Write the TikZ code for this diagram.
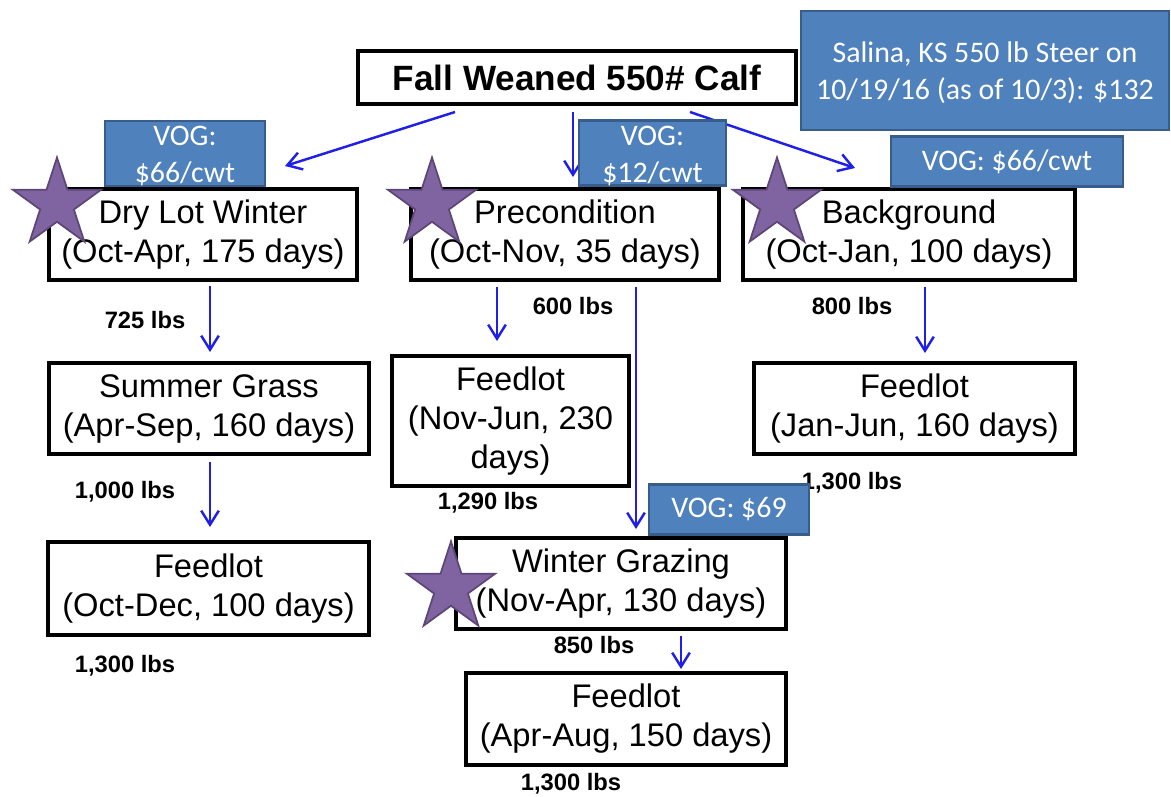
\documentclass[tikz,border=0pt]{standalone}
\usepackage{fontspec}
\setmainfont{Liberation Sans}
\newfontfamily\carl{Carlito}
\usetikzlibrary{shapes.geometric,arrows.meta}
\definecolor{vogfill}{HTML}{4F81BD}
\definecolor{vogline}{HTML}{385D8A}
\definecolor{starfill}{HTML}{8064A2}
\definecolor{starline}{HTML}{5C4776}
\definecolor{arrblue}{HTML}{1F1FE8}
\begin{document}
\begin{tikzpicture}[x=0.02cm,y=-0.02cm,
  stage/.style={draw=black,line width=2.4pt,fill=white,align=center,inner sep=0pt,font=\fontsize{18.6}{22.2}\selectfont},
  vog/.style={draw=vogline,line width=1.2pt,fill=vogfill,text=white,align=center,inner sep=0pt,font=\carl\fontsize{17}{21}\selectfont},
  wt/.style={font=\bfseries\fontsize{13.5}{16}\selectfont,inner sep=0pt},
  flow/.style={draw=arrblue,line width=1.4pt,-{Straight Barb[length=8pt,width=10pt]}},
  pstar/.style={star,star points=5,star point ratio=2.618,minimum size=1.86cm,inner sep=0pt,fill=starfill,draw=starline,line width=1pt}]
\useasboundingbox (0,0) rectangle (1171,796);
\fill[white] (0,0) rectangle (1171,796);

% weight labels
\node[wt] (w725) at (145,320) {725 lbs};
\node[wt] (w600) at (573,306) {600 lbs};
\node[wt] (w800) at (852,306) {800 lbs};
\node[wt] (w1000) at (125,492) {1,000 lbs};
\node[wt] (w1290) at (488,503) {1,290 lbs};
\node[wt] (w1300r) at (852,483) {1,300 lbs};
\node[wt] (w1300l) at (125,666) {1,300 lbs};
\node[wt] (w850) at (594,645) {850 lbs};
\node[wt] (w1300b) at (571,784) {1,300 lbs};

% stage boxes
\node[stage,font=\bfseries\fontsize{20}{24}\selectfont,minimum width=8.76cm,minimum height=1.06cm] (calf) at (577,77.5) {Fall Weaned 550\# Calf};
\node[stage,minimum width=6.16cm,minimum height=1.82cm] (dry) at (203,234.5) {Dry Lot Winter\\(Oct-Apr, 175 days)};
\node[stage,minimum width=6.16cm,minimum height=1.82cm] (pre) at (565,234.5) {Precondition\\(Oct-Nov, 35 days)};
\node[stage,minimum width=6.64cm,minimum height=1.82cm] (bg) at (909,234.5) {Background\\(Oct-Jan, 100 days)};
\node[stage,minimum width=6.40cm,minimum height=1.82cm] (sum) at (209,408.5) {Summer Grass\\(Apr-Sep, 160 days)};
\node[stage,minimum width=4.74cm,minimum height=2.60cm] (fnov) at (510.5,421) {Feedlot\\(Nov-Jun, 230\\days)};
\node[stage,minimum width=6.42cm,minimum height=1.82cm] (fjan) at (914.5,408.5) {Feedlot\\(Jan-Jun, 160 days)};
\node[stage,minimum width=6.42cm,minimum height=1.86cm] (foct) at (208.5,588.5) {Feedlot\\(Oct-Dec, 100 days)};
\node[stage,minimum width=6.60cm,minimum height=1.82cm] (wint) at (621,583.5) {Winter Grazing\\(Nov-Apr, 130 days)};
\node[stage,minimum width=6.40cm,minimum height=1.84cm] (fapr) at (626,719) {Feedlot\\(Apr-Aug, 150 days)};

% connectors
\coordinate (c1s) at (455,112); \coordinate (c1e) at (285,166);
\coordinate (c2s) at (573,112); \coordinate (c2e) at (573,177);
\coordinate (c3s) at (690,112); \coordinate (c3e) at (855,168);
\coordinate (c4s) at (210,286); \coordinate (c4e) at (210,352);
\coordinate (c5s) at (497,287); \coordinate (c5e) at (497,341);
\coordinate (c6s) at (636,287); \coordinate (c6e) at (636,529);
\coordinate (c7s) at (925,287); \coordinate (c7e) at (925,353);
\coordinate (c8s) at (210,462); \coordinate (c8e) at (210,527);
\coordinate (c9s) at (681,636); \coordinate (c9e) at (681,669);
\draw[flow] (c1s) -- (c1e);
\draw[flow] (c2s) -- (c2e);
\draw[flow] (c3s) -- (c3e);
\draw[flow] (c4s) -- (c4e);
\draw[flow] (c5s) -- (c5e);
\draw[flow] (c6s) -- (c6e);
\draw[flow] (c7s) -- (c7e);
\draw[flow] (c8s) -- (c8e);
\draw[flow] (c9s) -- (c9e);

% value-of-gain boxes
\node[vog,minimum width=7.36cm,minimum height=2.38cm] (salina) at (985,70.5) {\rule{0pt}{14pt}Salina, KS 550 lb Steer on\\10/19/16 (as of 10/3): \$132};
\node[vog,minimum width=3.20cm,minimum height=1.28cm] (vogl) at (185,153.5) {\rule{0pt}{14pt}VOG:\\\$66/cwt};
\node[vog,minimum width=2.94cm,minimum height=1.30cm] (vogm) at (652.5,153) {\rule{0pt}{14pt}VOG:\\\$12/cwt};
\node[vog,minimum width=4.64cm,minimum height=1.00cm] (vogr) at (1007,161.5) {VOG: \$66/cwt};
\node[vog,minimum width=3.20cm,minimum height=1.00cm] (vog69) at (729,509.5) {VOG: \$69};

% stars
\node[pstar] (s1) at (57,204) {};
\node[pstar] (s2) at (432,204) {};
\node[pstar] (s3) at (777,204) {};
\node[pstar] (s4) at (451,588) {};
\end{tikzpicture}
\end{document}
